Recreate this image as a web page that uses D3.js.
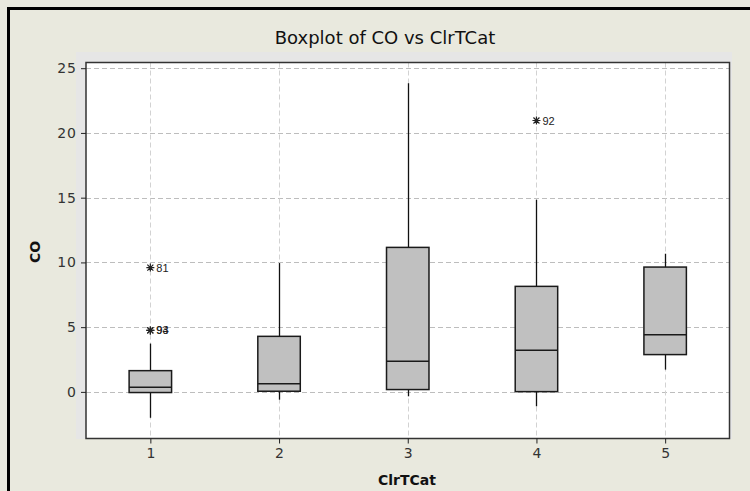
<!DOCTYPE html>
<html>
<head>
<meta charset="utf-8">
<script src="https://cdn.jsdelivr.net/npm/d3@7"></script>
<style>
  html, body { margin: 0; padding: 0; background: #e9e9de; }
  svg { display: block; }
</style>
</head>
<body>
<svg id="chart" width="750" height="491"></svg>
<script>
// ---- data ----
const categories   = [1, 2, 3, 4, 5];
const whiskerLow   = [-2.0, -0.6, -0.34, -1.11, 1.72];
const q1           = [-0.05, 0.05, 0.18, 0.02, 2.88];
const median       = [0.36, 0.62, 2.36, 3.21, 4.42];
const q3           = [1.64, 4.29, 11.16, 8.15, 9.64];
const whiskerHigh  = [3.73, 9.95, 23.84, 14.84, 10.67];
const outlierCat   = [1, 1, 1, 4];
const outlierVal   = [9.6, 4.75, 4.75, 20.96];
const outlierLabel = ["81", "93", "94", "92"];
const yTicks       = [0, 5, 10, 15, 20, 25];
const title  = "Boxplot of CO vs ClrTCat";
const xTitle = "ClrTCat";
const yTitle = "CO";

// ---- layout ----
const W = 750, H = 491;
const plot = { left: 86, right: 729.5, top: 62.5, bottom: 438.5 };
const svg = d3.select("#chart");

// outer frame (top and left edges visible)
svg.append("rect").attr("x", 0).attr("y", 0).attr("width", W).attr("height", H).attr("fill", "#e9e9de");
svg.append("path")
  .attr("d", `M8.5,${H + 5} L8.5,8.5 L${W + 5},8.5`)
  .attr("fill", "none").attr("stroke", "#000").attr("stroke-width", 3);

// grey band behind the data region
svg.append("rect").attr("x", 76).attr("y", 52).attr("width", 656).attr("height", 387)
  .attr("fill", "#e6e6e6");

const x = d3.scaleLinear().domain([0.5, 5.5]).range([plot.left, plot.right]);
const y = d3.scaleLinear().domain([-3.6, 25.44]).range([plot.bottom, plot.top]);

svg.append("rect").attr("x", plot.left).attr("y", plot.top)
  .attr("width", plot.right - plot.left).attr("height", plot.bottom - plot.top)
  .attr("fill", "#ffffff");

// gridlines
const grid = svg.append("g");
grid.selectAll("line.h").data(yTicks).join("line")
  .attr("x1", plot.left).attr("x2", plot.right)
  .attr("y1", d => Math.round(y(d)) + 0.5).attr("y2", d => Math.round(y(d)) + 0.5)
  .attr("stroke", "#bdbdbd").attr("stroke-width", 1).attr("stroke-dasharray", "5,3");
grid.selectAll("line.v").data(categories).join("line")
  .attr("y1", plot.top).attr("y2", plot.bottom)
  .attr("x1", d => Math.round(x(d)) + 0.5).attr("x2", d => Math.round(x(d)) + 0.5)
  .attr("stroke", "#d2d2d2").attr("stroke-width", 1).attr("stroke-dasharray", "5,3");

// boxes
const halfW = 0.165;
const boxes = svg.append("g");
categories.forEach((c, i) => {
  const cx = Math.round(x(c)) + 0.5;
  boxes.append("line").attr("x1", cx).attr("x2", cx)
    .attr("y1", y(whiskerLow[i])).attr("y2", y(q1[i]))
    .attr("stroke", "#111").attr("stroke-width", 1.3);
  boxes.append("line").attr("x1", cx).attr("x2", cx)
    .attr("y1", y(q3[i])).attr("y2", y(whiskerHigh[i]))
    .attr("stroke", "#111").attr("stroke-width", 1.3);
  boxes.append("rect")
    .attr("x", x(c - halfW)).attr("width", x(c + halfW) - x(c - halfW))
    .attr("y", y(q3[i])).attr("height", y(q1[i]) - y(q3[i]))
    .attr("fill", "#c0c0c0").attr("stroke", "#1a1a1a").attr("stroke-width", 1.5);
  boxes.append("line")
    .attr("x1", x(c - halfW)).attr("x2", x(c + halfW))
    .attr("y1", y(median[i])).attr("y2", y(median[i]))
    .attr("stroke", "#1a1a1a").attr("stroke-width", 1.5);
});

// outliers (asterisks) with labels
const ast = r => `M${-r},0L${r},0M0,${-r}L0,${r}M${-r * 0.75},${-r * 0.75}L${r * 0.75},${r * 0.75}M${-r * 0.75},${r * 0.75}L${r * 0.75},${-r * 0.75}`;
const outG = svg.append("g");
outlierCat.forEach((c, i) => {
  const cx = x(c), cy = y(outlierVal[i]);
  outG.append("path").attr("d", ast(4)).attr("transform", `translate(${cx},${cy})`)
    .attr("stroke", "#222").attr("stroke-width", 1.2).attr("fill", "none");
  outG.append("text").attr("x", cx + 6).attr("y", cy + 4)
    .attr("font-family", "Liberation Sans, Arial, sans-serif").attr("font-size", 11)
    .attr("fill", "#222").text(outlierLabel[i]);
});

// plot frame
svg.append("rect").attr("x", plot.left).attr("y", plot.top)
  .attr("width", plot.right - plot.left).attr("height", plot.bottom - plot.top)
  .attr("fill", "none").attr("stroke", "#333").attr("stroke-width", 1.5);

// axes
const yAxis = svg.append("g").attr("transform", `translate(${plot.left},0)`)
  .call(d3.axisLeft(y).tickValues(yTicks).tickSize(5).tickPadding(4).tickFormat(d3.format("d")));
const xAxis = svg.append("g").attr("transform", `translate(0,${plot.bottom})`)
  .call(d3.axisBottom(x).tickValues(categories).tickSize(5).tickPadding(5).tickFormat(d3.format("d")));
[yAxis, xAxis].forEach(a => {
  a.select(".domain").remove();
  a.selectAll(".tick line").attr("stroke", "#222").attr("stroke-width", 1);
  a.selectAll(".tick text").attr("font-family", "DejaVu Sans, sans-serif")
    .attr("font-size", 14).attr("fill", "#333");
});
yAxis.selectAll(".tick text").attr("letter-spacing", 1);

// titles
svg.append("text").attr("x", 385).attr("y", 44).attr("text-anchor", "middle")
  .attr("font-family", "DejaVu Sans, sans-serif").attr("font-size", 18)
  .attr("fill", "#111").text(title);
svg.append("text").attr("x", 407).attr("y", 485).attr("text-anchor", "middle")
  .attr("font-family", "DejaVu Sans, sans-serif").attr("font-weight", "bold")
  .attr("font-size", 14).attr("fill", "#111").text(xTitle);
svg.append("text").attr("transform", "translate(40,252) rotate(-90)").attr("text-anchor", "middle")
  .attr("font-family", "DejaVu Sans, sans-serif").attr("font-weight", "bold")
  .attr("font-size", 14).attr("fill", "#111").text(yTitle);
</script>
</body>
</html>
